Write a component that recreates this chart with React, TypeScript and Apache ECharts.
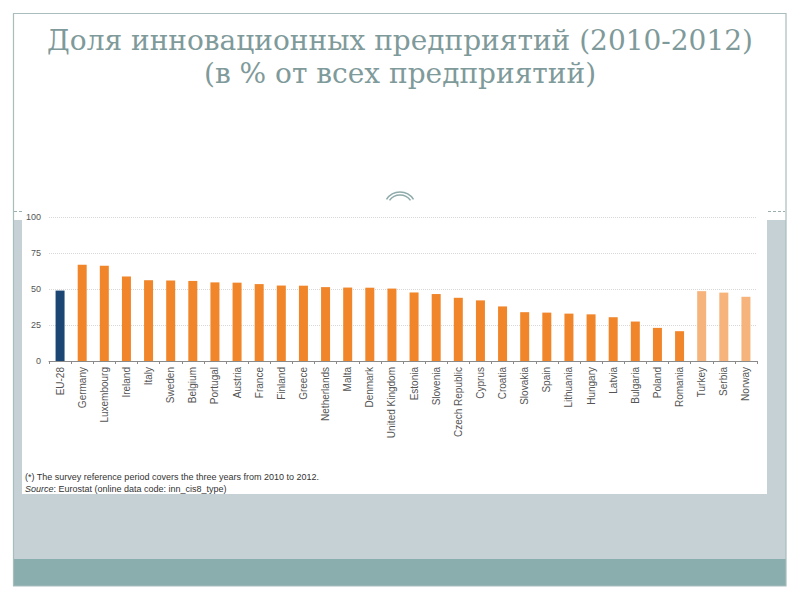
import { useEffect, useRef } from 'react';
import * as echarts from 'echarts';

const countries = [
  'EU-28', 'Germany', 'Luxembourg', 'Ireland', 'Italy', 'Sweden', 'Belgium', 'Portugal',
  'Austria', 'France', 'Finland', 'Greece', 'Netherlands', 'Malta', 'Denmark',
  'United Kingdom', 'Estonia', 'Slovenia', 'Czech Republic', 'Cyprus', 'Croatia',
  'Slovakia', 'Spain', 'Lithuania', 'Hungary', 'Latvia', 'Bulgaria', 'Poland',
  'Romania', 'Turkey', 'Serbia', 'Norway',
];

const shares = [
  48.9, 66.9, 66.1, 58.7, 56.1, 55.9, 55.6, 54.6, 54.4, 53.4, 52.4, 52.3, 51.3, 51.0,
  50.9, 50.3, 47.6, 46.5, 43.9, 42.1, 37.9, 33.9, 33.6, 32.9, 32.4, 30.4, 27.4, 23.0,
  20.7, 48.5, 47.5, 44.6,
];

// 'eu' | 'member' | 'other'
const groups = [
  'eu', 'member', 'member', 'member', 'member', 'member', 'member', 'member', 'member',
  'member', 'member', 'member', 'member', 'member', 'member', 'member', 'member',
  'member', 'member', 'member', 'member', 'member', 'member', 'member', 'member',
  'member', 'member', 'member', 'member', 'other', 'other', 'other',
];

const yTicks = [0, 25, 50, 75, 100];

const titleLines = ['Доля инновационных предприятий (2010-2012)', '(в % от всех предприятий)'];
const footnote = '(*) The survey reference period covers the three years from 2010 to 2012.';

const groupColors: Record<string, string> = {
  eu: '#1b4673',
  member: '#f0852a',
  other: '#f6b37c',
};

export default function App() {
  const chartRef = useRef<HTMLDivElement>(null);

  useEffect(() => {
    if (!chartRef.current) return;
    const chart = echarts.init(chartRef.current, undefined, { renderer: 'svg' });

    const frame = '#a9bdbd';
    const sans = 'Liberation Sans, Arial, sans-serif';
    const serif = 'DejaVu Serif, Liberation Serif, serif';

    const option: echarts.EChartsOption = {
      animation: false,
      backgroundColor: '#ffffff',
      grid: { left: 49, right: 43, top: 217, bottom: 239 },
      xAxis: {
        type: 'category',
        data: countries,
        axisLine: { lineStyle: { color: '#8a8a8a', width: 1 } },
        axisTick: { show: true, length: 3, lineStyle: { color: '#8a8a8a' } },
        axisLabel: {
          rotate: 90,
          interval: 0,
          fontSize: 10,
          color: '#555555',
          fontFamily: sans,
          margin: 6,
        },
      },
      yAxis: {
        type: 'value',
        min: yTicks[0],
        max: yTicks[yTicks.length - 1],
        interval: 25,
        axisLine: { show: false },
        axisTick: { show: false },
        axisLabel: {
          fontSize: 9,
          color: '#555555',
          fontFamily: sans,
          margin: 8,
        },
        splitLine: { lineStyle: { color: '#d8d8d8', type: 'dotted' } },
      },
      series: [
        {
          type: 'bar',
          barWidth: 9,
          data: shares.map((v, i) => ({
            value: v,
            itemStyle: { color: groupColors[groups[i]] },
          })),
        },
      ],
      graphic: [
        // grey panel behind the chart image
        { type: 'rect', z: -10, shape: { x: 13, y: 220, width: 773, height: 339 }, style: { fill: '#c6d1d6' } },
        { type: 'rect', z: -10, shape: { x: 13, y: 559, width: 773, height: 27 }, style: { fill: '#8aadad' } },
        // white chart image
        { type: 'rect', z: -9, shape: { x: 22, y: 205, width: 745, height: 289 }, style: { fill: '#ffffff' } },
        // slide frame
        {
          type: 'rect',
          z: 50,
          shape: { x: 13.5, y: 13.5, width: 772.5, height: 572.5 },
          style: { fill: 'none', stroke: frame, lineWidth: 1.2 },
        },
        // decorative dashes at the edges
        { type: 'line', shape: { x1: 14, y1: 211.5, x2: 22, y2: 211.5 }, style: { stroke: '#9aaeae', lineWidth: 1, lineDash: [3, 2] } },
        { type: 'line', shape: { x1: 768, y1: 211.5, x2: 785, y2: 211.5 }, style: { stroke: '#9aaeae', lineWidth: 1, lineDash: [3, 2] } },
        // ornament arcs
        {
          type: 'arc',
          shape: { cx: 400, cy: 208, r: 16, startAngle: -Math.PI * 0.82, endAngle: -Math.PI * 0.18 },
          style: { stroke: '#8fabab', lineWidth: 1.6, fill: 'none' },
        },
        {
          type: 'arc',
          shape: { cx: 400, cy: 208, r: 13, startAngle: -Math.PI * 0.8, endAngle: -Math.PI * 0.2 },
          style: { stroke: '#8fabab', lineWidth: 1.6, fill: 'none' },
        },
        // title
        {
          type: 'text',
          x: 400,
          y: 40,
          style: {
            text: titleLines[0],
            align: 'center',
            verticalAlign: 'middle',
            fontSize: 28,
            fontFamily: serif,
            fill: '#7f9a9a',
          },
        },
        {
          type: 'text',
          x: 400,
          y: 73,
          style: {
            text: titleLines[1],
            align: 'center',
            verticalAlign: 'middle',
            fontSize: 28,
            fontFamily: serif,
            fill: '#7f9a9a',
          },
        },
        // footnotes
        {
          type: 'text',
          x: 25,
          y: 477,
          style: {
            text: footnote,
            verticalAlign: 'middle',
            fontSize: 9,
            fontFamily: sans,
            fill: '#333333',
          },
        },
        {
          type: 'text',
          x: 25,
          y: 489,
          style: {
            text: '{i|Source}: Eurostat (online data code: inn_cis8_type)',
            verticalAlign: 'middle',
            fontSize: 9,
            fontFamily: sans,
            fill: '#333333',
            rich: {
              i: {
                fontStyle: 'italic',
                fontSize: 9,
                fontFamily: sans,
                fill: '#333333',
              },
            },
          },
        },
      ],
    };

    chart.setOption(option);

    return () => {
      chart.dispose();
    };
  }, []);

  return (
    <div
      ref={chartRef}
      style={{ position: 'fixed', left: 0, top: 0, width: '800px', height: '600px' }}
    />
  );
}
